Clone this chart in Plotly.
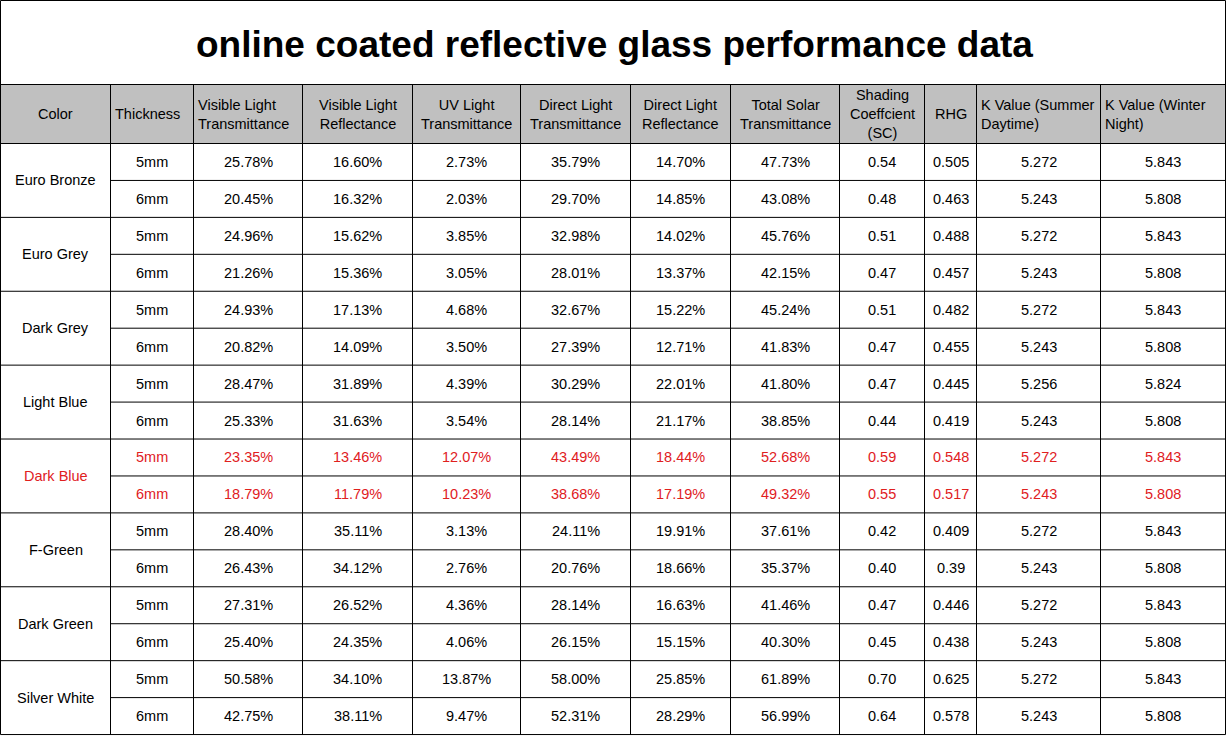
import plotly.graph_objects as go

# table content
title = "online coated reflective glass performance data"
headers = ["Color", "Thickness", "Visible Light<br>Transmittance", "Visible Light<br>Reflectance",
           "UV Light<br>Transmittance", "Direct Light<br>Transmittance", "Direct Light<br>Reflectance",
           "Total Solar<br>Transmittance", "Shading<br>Coeffcient<br>(SC)", "RHG",
           "K Value (Summer<br>Daytime)", "K Value (Winter<br>Night)"]
glass_colors = ["Euro Bronze", "Euro Grey", "Dark Grey", "Light Blue",
                "Dark Blue", "F-Green", "Dark Green", "Silver White"]
thickness = ["5mm", "6mm"]
vlt = ["25.78%", "20.45%", "24.96%", "21.26%", "24.93%", "20.82%", "28.47%", "25.33%",
       "23.35%", "18.79%", "28.40%", "26.43%", "27.31%", "25.40%", "50.58%", "42.75%"]
vlr = ["16.60%", "16.32%", "15.62%", "15.36%", "17.13%", "14.09%", "31.89%", "31.63%",
       "13.46%", "11.79%", "35.11%", "34.12%", "26.52%", "24.35%", "34.10%", "38.11%"]
uvt = ["2.73%", "2.03%", "3.85%", "3.05%", "4.68%", "3.50%", "4.39%", "3.54%",
       "12.07%", "10.23%", "3.13%", "2.76%", "4.36%", "4.06%", "13.87%", "9.47%"]
dlt = ["35.79%", "29.70%", "32.98%", "28.01%", "32.67%", "27.39%", "30.29%", "28.14%",
       "43.49%", "38.68%", "24.11%", "20.76%", "28.14%", "26.15%", "58.00%", "52.31%"]
dlr = ["14.70%", "14.85%", "14.02%", "13.37%", "15.22%", "12.71%", "22.01%", "21.17%",
       "18.44%", "17.19%", "19.91%", "18.66%", "16.63%", "15.15%", "25.85%", "28.29%"]
tst = ["47.73%", "43.08%", "45.76%", "42.15%", "45.24%", "41.83%", "41.80%", "38.85%",
       "52.68%", "49.32%", "37.61%", "35.37%", "41.46%", "40.30%", "61.89%", "56.99%"]
sc = ["0.54", "0.48", "0.51", "0.47", "0.51", "0.47", "0.47", "0.44",
      "0.59", "0.55", "0.42", "0.40", "0.47", "0.45", "0.70", "0.64"]
rhg = ["0.505", "0.463", "0.488", "0.457", "0.482", "0.455", "0.445", "0.419",
       "0.548", "0.517", "0.409", "0.39", "0.446", "0.438", "0.625", "0.578"]
k_summer = ["5.272", "5.243", "5.272", "5.243", "5.272", "5.243", "5.256", "5.243",
            "5.272", "5.243", "5.272", "5.243", "5.272", "5.243", "5.272", "5.243"]
k_winter = ["5.843", "5.808", "5.843", "5.808", "5.843", "5.808", "5.824", "5.808",
            "5.843", "5.808", "5.843", "5.808", "5.843", "5.808", "5.843", "5.808"]
highlight = "Dark Blue"

# layout of the grid (pixels)
col_widths = [110, 83, 109, 110, 108, 110, 100, 109, 85, 52, 124, 125]
left_headers = [1, 2, 10, 11]
title_h, header_h, row_h = 84, 59, 36.94
W, H = 1226, 736
FONT = "Liberation Sans, Arial, sans-serif"
FS = 14.5
RED = "#e0201e"

edges = [0]
for w in col_widths:
    edges.append(edges[-1] + w)
right = edges[-1]
data_top = title_h + header_h
n_rows = len(glass_colors) * len(thickness)
bottom = data_top + n_rows * row_h

value_cols = [vlt, vlr, uvt, dlt, dlr, tst, sc, rhg, k_summer, k_winter]

shapes = []
annotations = []
line = dict(color="black", width=1)

# header background
shapes.append(dict(type="rect", x0=0, x1=right, y0=title_h, y1=data_top,
                   fillcolor="#c0c0c0", line=dict(width=0), layer="below"))
# outer frame and title separator
shapes.append(dict(type="rect", x0=0, x1=right, y0=0, y1=bottom, line=line))
shapes.append(dict(type="line", x0=0, x1=right, y0=title_h, y1=title_h, line=line))
shapes.append(dict(type="line", x0=0, x1=right, y0=data_top, y1=data_top, line=line))
# column separators
for x in edges[1:-1]:
    shapes.append(dict(type="line", x0=x, x1=x, y0=title_h, y1=bottom, line=line))
# row separators (the color column spans both thickness rows)
for r in range(1, n_rows):
    y = data_top + r * row_h
    x0 = 0 if r % 2 == 0 else edges[1]
    shapes.append(dict(type="line", x0=x0, x1=right, y0=y, y1=y, line=line))

annotations.append(dict(x=right / 2 + 1, y=title_h / 2 + 2, text="<b>" + title + "</b>",
                        font=dict(size=37, family=FONT, color="black")))

for i, h in enumerate(headers):
    if i in left_headers:
        annotations.append(dict(x=edges[i] + 2, y=title_h + header_h / 2, text=h,
                                xanchor="left", align="left",
                                font=dict(size=FS, family=FONT, color="black")))
    else:
        annotations.append(dict(x=(edges[i] + edges[i + 1]) / 2, y=title_h + header_h / 2,
                                text=h, align="center",
                                font=dict(size=FS, family=FONT, color="black")))

for g, name in enumerate(glass_colors):
    c = RED if name == highlight else "black"
    annotations.append(dict(x=edges[1] / 2, y=data_top + (2 * g + 1) * row_h, text=name,
                            font=dict(size=FS, family=FONT, color=c)))
    for t, th in enumerate(thickness):
        r = 2 * g + t
        yc = data_top + (r + 0.5) * row_h
        annotations.append(dict(x=(edges[1] + edges[2]) / 2, y=yc, text=th,
                                font=dict(size=FS, family=FONT, color=c)))
        for j, col in enumerate(value_cols):
            k = j + 2
            annotations.append(dict(x=(edges[k] + edges[k + 1]) / 2, y=yc, text=col[r],
                                    font=dict(size=FS, family=FONT, color=c)))

for a in annotations:
    a.update(xref="x", yref="y", showarrow=False, yanchor="middle")
    a.setdefault("xanchor", "center")

fig = go.Figure()
fig.update_layout(
    width=W, height=H,
    margin=dict(l=0, r=0, t=0, b=0),
    plot_bgcolor="white", paper_bgcolor="white",
    shapes=shapes, annotations=annotations,
    xaxis=dict(range=[-0.5, W - 0.5], visible=False, fixedrange=True),
    yaxis=dict(range=[H - 0.5, -0.5], visible=False, fixedrange=True),
    showlegend=False,
)

fig.write_html("out.html", config={"displayModeBar": False},
               post_script="document.body.style.margin='0';document.body.style.overflow='hidden';")
